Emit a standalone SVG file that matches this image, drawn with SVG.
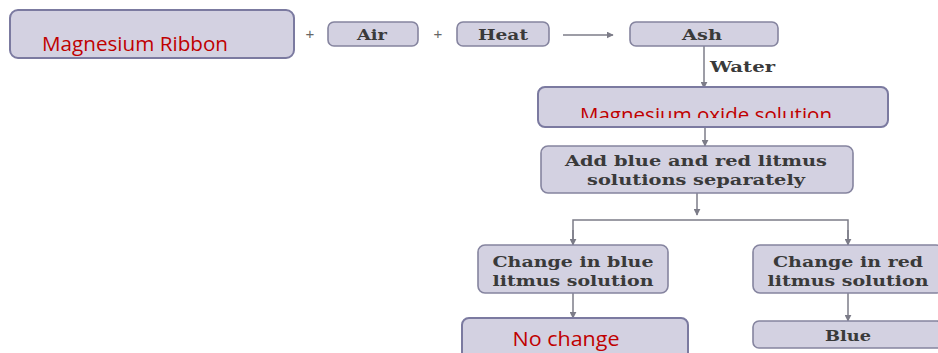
<svg xmlns="http://www.w3.org/2000/svg" width="938" height="353" viewBox="0 0 938 353">
<style>
.big{fill:#d3d1e1;stroke:#7b7aa0;stroke-width:2}
.sm{fill:#d3d1e1;stroke:#85849f;stroke-width:1.6}
.red{font-family:"Open Sans","Liberation Sans",sans-serif;font-size:20px;fill:#c00000}
.lbl{font-family:"DejaVu Serif","Liberation Serif",serif;font-weight:bold;font-size:15.5px;fill:#3a3a3a}
.ln{stroke:#7c7c88;stroke-width:1.5;fill:none}
.plus{font-family:"Liberation Sans",sans-serif;font-size:15px;fill:#666}
</style>
<defs>
<marker id="ah" viewBox="0 0 10 10" refX="9" refY="5" markerWidth="7" markerHeight="7" orient="auto" markerUnits="userSpaceOnUse">
<path d="M0,0 L10,5 L0,10 z" fill="#7c7c88"/>
</marker>
<clipPath id="clipOx"><rect x="538" y="86" width="352" height="32"/></clipPath>
</defs>
<rect width="938" height="353" fill="#ffffff"/>
<g id="connectors">
<line class="ln" x1="563" y1="35" x2="613" y2="35" marker-end="url(#ah)"/>
<line class="ln" x1="704" y1="46" x2="704" y2="88" marker-end="url(#ah)"/>
<line class="ln" x1="705" y1="127" x2="705" y2="146" marker-end="url(#ah)"/>
<line class="ln" x1="697" y1="193" x2="697" y2="215" marker-end="url(#ah)"/>
<polyline class="ln" points="573,245 573,220 848,220 848,245"/>
<line class="ln" x1="573" y1="230" x2="573" y2="245" marker-end="url(#ah)"/>
<line class="ln" x1="848" y1="230" x2="848" y2="245" marker-end="url(#ah)"/>
<line class="ln" x1="573" y1="293" x2="573" y2="318" marker-end="url(#ah)"/>
<line class="ln" x1="848" y1="293" x2="848" y2="321" marker-end="url(#ah)"/>
<text class="lbl" x="710" y="72" textLength="65" lengthAdjust="spacingAndGlyphs">Water</text>
<text class="plus" x="310" y="39" text-anchor="middle">+</text>
<text class="plus" x="438" y="39" text-anchor="middle">+</text>
</g>
<g id="ribbon">
<rect class="big" x="10" y="10" width="284" height="48" rx="8"/>
<text class="red" x="42" y="51" textLength="186" lengthAdjust="spacingAndGlyphs">Magnesium Ribbon</text>
</g>
<g id="air">
<rect class="sm" x="328" y="22" width="90" height="24" rx="6"/>
<text class="lbl" x="372" y="40" text-anchor="middle" textLength="30" lengthAdjust="spacingAndGlyphs">Air</text>
</g>
<g id="heat">
<rect class="sm" x="457" y="22" width="92" height="24" rx="6"/>
<text class="lbl" x="503" y="40" text-anchor="middle" textLength="50" lengthAdjust="spacingAndGlyphs">Heat</text>
</g>
<g id="ash">
<rect class="sm" x="630" y="22" width="148" height="24" rx="6"/>
<text class="lbl" x="702" y="40" text-anchor="middle" textLength="40" lengthAdjust="spacingAndGlyphs">Ash</text>
</g>
<g id="oxide">
<rect class="big" x="538" y="87" width="350" height="40" rx="7"/>
<text class="red" x="706" y="122" text-anchor="middle" textLength="252" lengthAdjust="spacingAndGlyphs" clip-path="url(#clipOx)">Magnesium oxide solution</text>
</g>
<g id="add">
<rect class="sm" x="541" y="146" width="312" height="47" rx="7"/>
<text class="lbl" x="696" y="166" text-anchor="middle" textLength="262" lengthAdjust="spacingAndGlyphs">Add blue and red litmus</text>
<text class="lbl" x="696" y="185" text-anchor="middle" textLength="218" lengthAdjust="spacingAndGlyphs">solutions separately</text>
</g>
<g id="changeBlue">
<rect class="sm" x="478" y="245" width="190" height="48" rx="7"/>
<text class="lbl" x="573" y="267" text-anchor="middle" textLength="161" lengthAdjust="spacingAndGlyphs">Change in blue</text>
<text class="lbl" x="573" y="286" text-anchor="middle" textLength="161" lengthAdjust="spacingAndGlyphs">litmus solution</text>
</g>
<g id="changeRed">
<rect class="sm" x="753" y="245" width="190" height="48" rx="7"/>
<text class="lbl" x="848" y="267" text-anchor="middle" textLength="150" lengthAdjust="spacingAndGlyphs">Change in red</text>
<text class="lbl" x="848" y="286" text-anchor="middle" textLength="161" lengthAdjust="spacingAndGlyphs">litmus solution</text>
</g>
<g id="noChange">
<rect class="big" x="462" y="318" width="226" height="45" rx="7"/>
<text class="red" x="566" y="346" text-anchor="middle" textLength="107" lengthAdjust="spacingAndGlyphs">No change</text>
</g>
<g id="blue">
<rect class="sm" x="753" y="321" width="190" height="27" rx="6"/>
<text class="lbl" x="848" y="341" text-anchor="middle" textLength="46" lengthAdjust="spacingAndGlyphs">Blue</text>
</g>
</svg>
